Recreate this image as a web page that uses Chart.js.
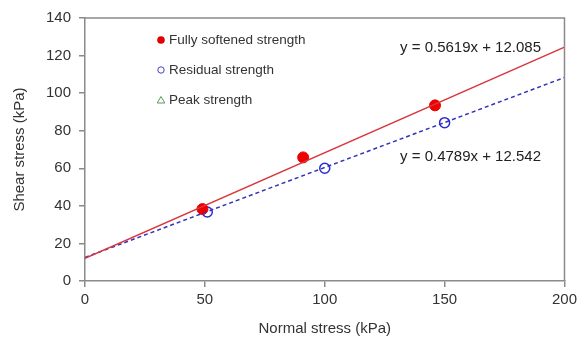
<!DOCTYPE html>
<html>
<head>
<meta charset="utf-8">
<script src="https://cdn.jsdelivr.net/npm/chart.js@4"></script>
<style>
  html, body { margin: 0; padding: 0; background: #fff; }
  #wrap { width: 581px; height: 343px; }
</style>
</head>
<body>
<div id="wrap"><canvas id="chart"></canvas></div>
<script>
// data
var softX = [49, 91, 146];
var softY = [38.3, 65.8, 93.5];
var resX = [51, 100, 150];
var resY = [36.7, 60, 84.3];
var peakX = [];
var peakY = [];

// trendline equations shown on the chart
var softFit = [0.5619, 12.085];
var resFit = [0.4789, 12.542];
var fitRange = [0, 200];

var xTicks = [0, 50, 100, 150, 200];
var yTicks = [0, 20, 40, 60, 80, 100, 120, 140];

function pts(xs, ys) {
  return xs.map(function (x, i) { return { x: x, y: ys[i] }; });
}
function fitLine(f) {
  return fitRange.map(function (x) { return { x: x, y: f[0] * x + f[1] }; });
}

var FONT = "'Liberation Sans', Arial, sans-serif";
var TXT = '#333333';
var AXIS = '#8a8a8a';

var labelsPlugin = {
  id: 'labels',
  afterDraw: function (chart) {
    var c = chart.ctx, a = chart.chartArea;
    c.save();
    // frame top / right
    c.strokeStyle = AXIS;
    c.lineWidth = 1.5;
    c.beginPath();
    c.moveTo(a.left, a.top);
    c.lineTo(a.right, a.top);
    c.lineTo(a.right, a.bottom);
    c.stroke();

    // legend inside plot
    var entries = [
      { t: 'Fully softened strength', y: 40, kind: 'dot' },
      { t: 'Residual strength', y: 70, kind: 'ring' },
      { t: 'Peak strength', y: 100, kind: 'tri' }
    ];
    c.font = '13.5px ' + FONT;
    c.textBaseline = 'middle';
    c.textAlign = 'left';
    entries.forEach(function (e) {
      var mx = 161, my = e.y;
      c.beginPath();
      if (e.kind === 'dot') {
        c.fillStyle = '#e00000';
        c.arc(mx, my, 3.8, 0, Math.PI * 2);
        c.fill();
      } else if (e.kind === 'ring') {
        c.strokeStyle = '#4040c0';
        c.lineWidth = 1;
        c.arc(mx, my, 3.2, 0, Math.PI * 2);
        c.stroke();
      } else {
        c.strokeStyle = '#5a9a5a';
        c.lineWidth = 1;
        c.moveTo(mx, my - 3.5);
        c.lineTo(mx + 3.8, my + 3);
        c.lineTo(mx - 3.8, my + 3);
        c.closePath();
        c.stroke();
      }
      c.fillStyle = TXT;
      c.fillText(e.t, 169, my);
    });

    // equations
    c.font = '15px ' + FONT;
    c.textAlign = 'right';
    c.fillStyle = '#222';
    c.fillText('y = ' + softFit[0] + 'x + ' + softFit[1], 541, 48);
    c.fillText('y = ' + resFit[0] + 'x + ' + resFit[1], 541, 157);
    c.restore();
  }
};

new Chart('chart', {
  type: 'scatter',
  data: {
    datasets: [
      {
        label: 'Fully softened trend',
        type: 'line',
        data: fitLine(softFit),
        borderColor: '#d9363e',
        borderWidth: 1.5,
        pointRadius: 0,
        fill: false
      },
      {
        label: 'Residual trend',
        type: 'line',
        data: fitLine(resFit),
        borderColor: '#3434b8',
        borderWidth: 1.5,
        borderDash: [4, 3],
        pointRadius: 0,
        fill: false
      },
      {
        label: 'Fully softened strength',
        data: pts(softX, softY),
        backgroundColor: '#ee0000',
        borderColor: '#ee0000',
        pointRadius: 5.5
      },
      {
        label: 'Residual strength',
        data: pts(resX, resY),
        backgroundColor: 'rgba(255,255,255,0)',
        borderColor: '#2a2ad0',
        borderWidth: 1.5,
        pointRadius: 5
      },
      {
        label: 'Peak strength',
        data: pts(peakX, peakY),
        pointStyle: 'triangle',
        backgroundColor: 'rgba(255,255,255,0)',
        borderColor: '#5a9a5a',
        pointRadius: 4
      }
    ]
  },
  options: {
    responsive: true,
    maintainAspectRatio: false,
    animation: false,
    layout: { padding: { left: 0, top: 18, right: 16, bottom: 0 } },
    plugins: {
      legend: { display: false },
      tooltip: { enabled: false }
    },
    scales: {
      x: {
        type: 'linear',
        min: 0,
        max: 200,
        afterBuildTicks: function (s) { s.ticks = xTicks.map(function (v) { return { value: v }; }); },
        afterFit: function (s) { s.height = 62; },
        grid: { drawOnChartArea: false, color: AXIS, tickLength: 6, lineWidth: 1.5 },
        border: { color: AXIS, width: 1.5 },
        ticks: { color: TXT, font: { family: FONT, size: 15 }, padding: 4, maxRotation: 0 },
        title: { display: true, text: 'Normal stress (kPa)', color: TXT, font: { family: FONT, size: 15 }, padding: { top: 0, bottom: 5 } }
      },
      y: {
        min: 0,
        max: 140,
        afterBuildTicks: function (s) { s.ticks = yTicks.map(function (v) { return { value: v }; }); },
        afterFit: function (s) { s.width = 85; },
        grid: { drawOnChartArea: false, color: AXIS, tickLength: 6, lineWidth: 1.5 },
        border: { color: AXIS, width: 1.5 },
        ticks: { color: TXT, font: { family: FONT, size: 15 }, padding: 8 },
        title: { display: true, text: 'Shear stress (kPa)', color: TXT, font: { family: FONT, size: 15 }, padding: { top: 11, bottom: 0 } }
      }
    }
  },
  plugins: [labelsPlugin]
});
</script>
</body>
</html>
